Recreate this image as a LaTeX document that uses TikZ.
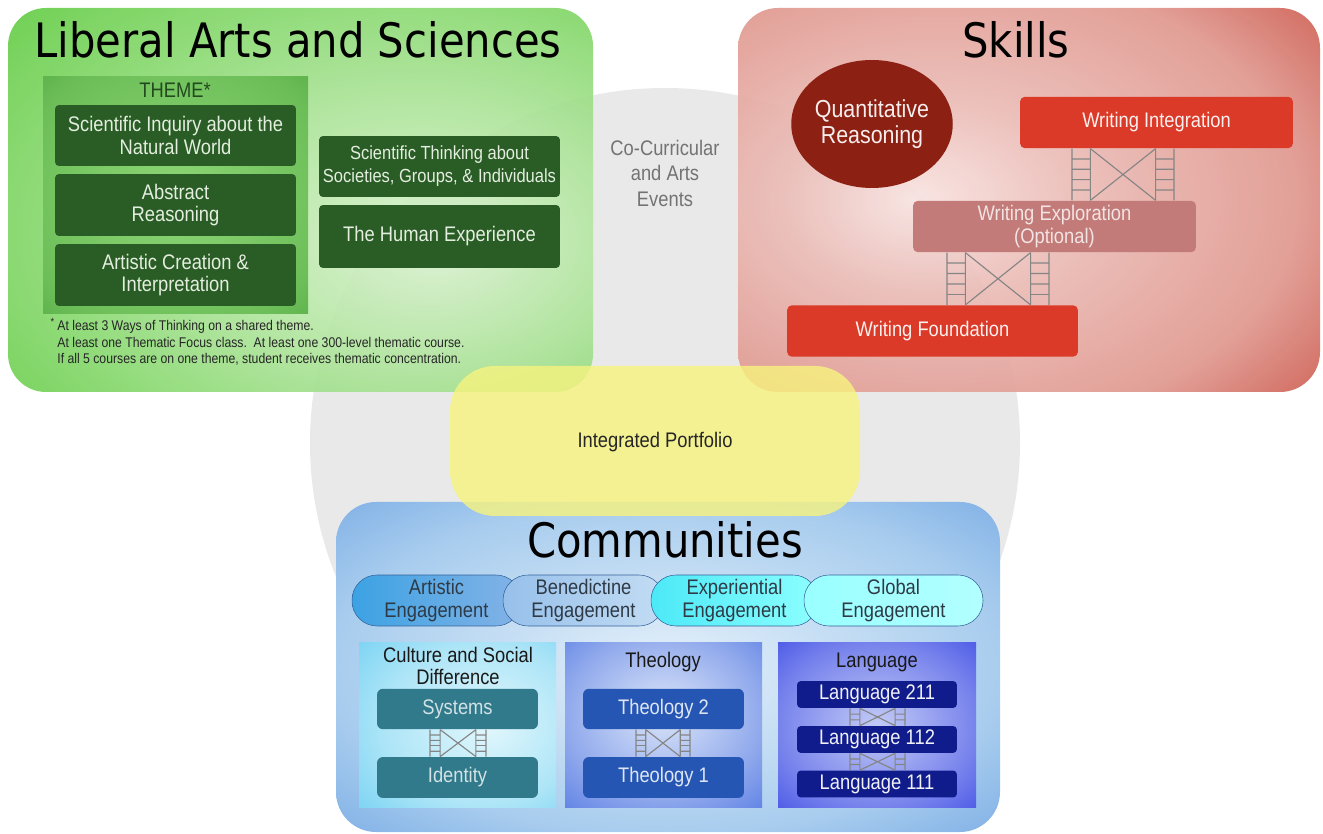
\documentclass[tikz,border=0pt]{standalone}
\usepackage{fontspec}
\setmainfont{Liberation Sans}[FakeStretch=0.87]
\newfontfamily\headfont{DejaVu Sans}[FakeStretch=0.88]
\usetikzlibrary{calc,shapes.geometric}

\definecolor{circgray}{HTML}{E9E9E9}
\definecolor{lasin}{HTML}{DDF3D3}
\definecolor{lasmid}{HTML}{A8E294}
\definecolor{lasout}{HTML}{55C834}
\definecolor{thmin}{HTML}{8DD676}
\definecolor{thmout}{HTML}{3C9A2D}
\definecolor{lasbox}{HTML}{2A5C26}
\definecolor{lastext}{HTML}{E4EEDF}
\definecolor{skin}{HTML}{F8E4E2}
\definecolor{skmid}{HTML}{E09A91}
\definecolor{skout}{HTML}{C43E30}
\definecolor{wrbox}{HTML}{DA3A27}
\definecolor{wrexp}{HTML}{C27B78}
\definecolor{qrfill}{HTML}{8B2013}
\definecolor{comin}{HTML}{E4F0FA}
\definecolor{commid}{HTML}{A9CDEE}
\definecolor{comout}{HTML}{4B8BDC}
\definecolor{culin}{HTML}{E2F7FC}
\definecolor{culout}{HTML}{5CC9F0}
\definecolor{theoin}{HTML}{DBE5F8}
\definecolor{theoout}{HTML}{3560DE}
\definecolor{langin}{HTML}{C3CBF6}
\definecolor{langout}{HTML}{1B2BE0}
\definecolor{sysbox}{HTML}{317A8B}
\definecolor{theobox}{HTML}{2656B4}
\definecolor{langbox}{HTML}{101C8C}
\definecolor{pfyellow}{HTML}{F7F37E}
\definecolor{scafgray}{HTML}{858585}
\definecolor{pilltext}{HTML}{2E3A46}

\pgfdeclareradialshading{lasbg}{\pgfpoint{12bp}{-6bp}}{color(0bp)=(lasin); color(20bp)=(lasmid); color(48bp)=(lasout); color(100bp)=(lasout)}
\pgfdeclareradialshading{thmbg}{\pgfpoint{0bp}{0bp}}{color(0bp)=(thmin); color(30bp)=(thmin!60!thmout); color(50bp)=(thmout); color(100bp)=(thmout)}
\pgfdeclareradialshading{skbg}{\pgfpoint{-10bp}{0bp}}{color(0bp)=(skin); color(12bp)=(skin!50!skmid); color(30bp)=(skmid); color(46bp)=(skout); color(100bp)=(skout)}
\pgfdeclareradialshading{combg}{\pgfpoint{0bp}{0bp}}{color(0bp)=(comin); color(25bp)=(commid); color(50bp)=(comout); color(100bp)=(comout)}
\pgfdeclareradialshading{culbg}{\pgfpoint{8bp}{0bp}}{color(0bp)=(culin); color(25bp)=(culin!60!culout); color(50bp)=(culout); color(100bp)=(culout)}
\pgfdeclareradialshading{theobg}{\pgfpoint{0bp}{4bp}}{color(0bp)=(theoin); color(25bp)=(theoin!55!theoout); color(50bp)=(theoout); color(100bp)=(theoout)}
\pgfdeclareradialshading{langbg}{\pgfpoint{0bp}{0bp}}{color(0bp)=(langin); color(25bp)=(langin!55!langout); color(50bp)=(langout); color(100bp)=(langout)}

\newcommand{\scaff}[5]{%
        \coordinate (tl) at (#3,0 |- #1.south);
        \coordinate (tr) at (#4,0 |- #1.south);
        \coordinate (bl) at (#3,0 |- #2.north);
        \coordinate (br) at (#4,0 |- #2.north);
        \coordinate (ti) at ($(tl)!0.18!(tr)$);
        \coordinate (bi) at ($(bl)!0.18!(br)$);
        \coordinate (tj) at ($(tl)!0.82!(tr)$);
        \coordinate (bj) at ($(bl)!0.82!(br)$);
        \draw[scaf] (tl) -- (bl) (ti) -- (bi) (tj) -- (bj) (tr) -- (br) (ti) -- (bj) (bi) -- (tj);
        \foreach \k in {1,...,#5}{
            \pgfmathsetmacro\rpos{\k/(#5+1)}
            \draw[scaf] ($(tl)!\rpos!(bl)$) -- ($(ti)!\rpos!(bi)$) ($(tj)!\rpos!(bj)$) -- ($(tr)!\rpos!(br)$);
        }
}

\begin{document}
\begin{tikzpicture}[x=0.02cm, y=-0.02cm,
        head/.style={font=\headfont\fontsize{27}{30}\selectfont, inner sep=0},
        txt/.style={font=\fontsize{12}{13}\selectfont, align=center, inner sep=0},
        gbox/.style={txt, fill=lasbox, text=lastext, rounded corners=0.08cm, minimum width=4.82cm},
        wbox/.style={txt, fill=wrbox, text=white!92!wrbox, rounded corners=0.1cm, minimum height=1.03cm},
        pill/.style={txt, rounded corners=0.5cm, minimum height=1.02cm, draw=comout!70!black, line width=0.3pt, text=pilltext},
        cbox/.style={txt, rounded corners=0.12cm, minimum width=3.22cm, minimum height=0.81cm},
        lbox/.style={txt, fill=langbox, text=white!94!langbox, rounded corners=0.08cm, minimum width=3.2cm, minimum height=0.54cm},
        ptitle/.style={txt, text=black!90},
        scaf/.style={draw=scafgray, line width=0.65pt}
    ]
        \useasboundingbox (0,0) rectangle (1323,834);
        \fill[circgray] (665,443) circle (355);

        \shade[shading=lasbg, opacity=0.93, rounded corners=0.76cm] (8,8) rectangle (593,392);
        \shade[shading=skbg, opacity=0.94, rounded corners=0.8cm] (738,8) rectangle (1320,392);
        \shade[shading=combg, rounded corners=0.8cm] (336,502) rectangle (1000,832);
        \fill[pfyellow, fill opacity=0.8, rounded corners=0.9cm] (450,366) rectangle (860,516);

        \node[head] (lastitle) at (298,40) {Liberal Arts and Sciences};
        \shade[shading=thmbg] (43,77) rectangle (308,314);
        \node[txt, text=lasbox!80!black] (theme) at (175,90) {THEME*};
        \node[gbox, minimum height=1.22cm] (sci) at (175.5,135.5) {Scientific Inquiry about the\\Natural World};
        \node[gbox, minimum height=1.24cm] (abs) at (175.5,205) {Abstract\\Reasoning};
        \node[gbox, minimum height=1.24cm] (art) at (175.5,275) {Artistic Creation \&\\Interpretation};
        \node[gbox, minimum height=1.22cm, font=\fontsize{10.8}{13}\selectfont] (soc) at (439.5,166.5) {Scientific Thinking about\\Societies, Groups, \& Individuals};
        \node[gbox, minimum height=1.26cm] (hum) at (439.5,236.5) {The Human Experience};
        \node[txt, anchor=west, align=left, text=black!85, font=\fontsize{8}{9.4}\selectfont] (note) at (57,342)
            {\llap{\textsuperscript{*}\,}At least 3 Ways of Thinking on a shared theme.\\At least one Thematic Focus class.\ \ At least one 300-level thematic course.\\If all 5 courses are on one theme, student receives thematic concentration.};

        \node[txt, text=black!55] (cocur) at (665,173) {Co-Curricular\\[1.5pt]and Arts\\[1.5pt]Events};

        \node[head] (sktitle) at (1016,40) {Skills};
        \node[ellipse, fill=qrfill, text=white!92!qrfill, minimum width=3.0cm, minimum height=2.56cm, align=center, inner sep=0, font=\fontsize{14}{15}\selectfont] (qr) at (872,124) {Quantitative\\Reasoning};
        \node[wbox, minimum width=5.46cm] (wint) at (1156.5,122.5) {Writing Integration};
        \node[wbox, minimum width=5.66cm, fill=wrexp, text=white!80!wrexp] (wexp) at (1054.5,226.5) {Writing Exploration\\(Optional)};
        \node[wbox, minimum width=5.82cm] (wfnd) at (932.5,331) {Writing Foundation};
        \scaff{wint}{wexp}{1072}{1174}{4}
        \scaff{wexp}{wfnd}{947}{1049}{4}

        \node[txt, text=black!85] (pf) at (655,442) {Integrated Portfolio};

        \node[head] (comtitle) at (665,540) {Communities};
        \node[pill, minimum width=3.38cm, left color=comout!80!cyan, right color=commid!60!comout] (arteng) at (436.5,600.5) {Artistic\\Engagement};
        \node[pill, minimum width=3.22cm, left color=commid!80!comout, right color=commid!70!white] (beneng) at (583.5,600.5) {Benedictine\\Engagement};
        \node[pill, minimum width=3.34cm, left color=cyan!55!commid, right color=cyan!45!white] (expeng) at (734.5,600.5) {Experiential\\Engagement};
        \node[pill, minimum width=3.58cm, left color=cyan!40!white, right color=cyan!30!white] (gloeng) at (893.5,600.5) {Global\\Engagement};

        \shade[shading=culbg] (359,643) rectangle (556,807);
        \shade[shading=theobg] (565,643) rectangle (762,807);
        \shade[shading=langbg] (778,643) rectangle (976,807);

        \node[ptitle] (cultitle) at (458,666) {Culture and Social\\Difference};
        \node[cbox, fill=sysbox, text=white!78!sysbox] (sys) at (457.5,709) {Systems};
        \node[cbox, fill=sysbox, text=white!78!sysbox, minimum height=0.82cm] (idn) at (457.5,777.5) {Identity};
        \scaff{sys}{idn}{430}{486}{4}

        \node[ptitle] (theotitle) at (663,662) {Theology};
        \node[cbox, fill=theobox, text=white!85!theobox] (th2) at (663.5,709) {Theology 2};
        \node[cbox, fill=theobox, text=white!85!theobox, minimum height=0.82cm] (th1) at (663.5,777.5) {Theology 1};
        \scaff{th2}{th1}{636}{690}{4}

        \node[ptitle] (langtitle) at (877,662) {Language};
        \node[lbox] (l211) at (877,694.5) {Language 211};
        \node[lbox] (l112) at (877,739.5) {Language 112};
        \node[lbox] (l111) at (877,784) {Language 111};
        \scaff{l211}{l112}{850}{905}{2}
        \scaff{l112}{l111}{850}{905}{2}
    \end{tikzpicture}
\end{document}
